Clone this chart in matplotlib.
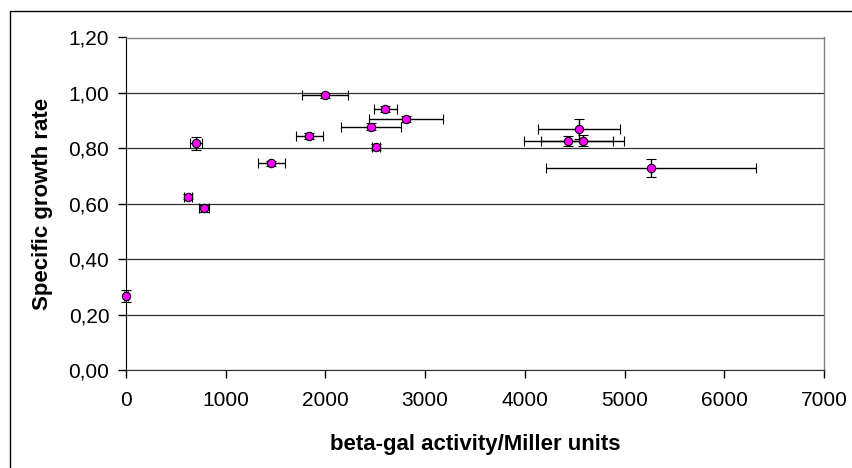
import matplotlib
matplotlib.use("Agg")
import matplotlib.pyplot as plt
from matplotlib.patches import Rectangle
from matplotlib.ticker import FuncFormatter

plt.rcParams['font.family'] = ['Liberation Sans', 'DejaVu Sans']

# beta-gal activity (Miller units) and specific growth rate, with error bars
activity = [0, 617, 705, 785, 1457, 1840, 1997, 2457, 2503, 2601, 2806, 4434, 4541, 4579, 5267]
activity_err = [20, 40, 60, 50, 134, 134, 232, 297, 40, 117, 370, 445, 410, 420, 1050]
growth = [0.268, 0.626, 0.818, 0.584, 0.746, 0.845, 0.991, 0.878, 0.805, 0.943, 0.906, 0.827, 0.870, 0.827, 0.730]
growth_err = [0.022, 0.008, 0.024, 0.012, 0.010, 0.010, 0.008, 0.012, 0.010, 0.010, 0.010, 0.018, 0.035, 0.020, 0.032]

xticks = [0, 1000, 2000, 3000, 4000, 5000, 6000, 7000]
yticks = [0.0, 0.2, 0.4, 0.6, 0.8, 1.0, 1.2]

W, H = 852, 468
fig = plt.figure(figsize=(W / 100, H / 100), dpi=100)
ax = fig.add_axes([126 / W, 1 - 370.3 / H, (824 - 126) / W, (370.3 - 37.5) / H])

# outer chart border (cut off at right and bottom)
fig.patches.append(Rectangle((10 / W, -0.1), 1.2, 1 - 11 / H + 0.1, transform=fig.transFigure,
                             fill=False, edgecolor='black', linewidth=1.0))

for yv in yticks:
    ax.axhline(yv, color='#303030', linewidth=0.9, zorder=1)

ax.errorbar(activity, growth, xerr=activity_err, yerr=growth_err, fmt='o',
            color='black', ecolor='black', elinewidth=1.0, capsize=3.5, capthick=1.0,
            markerfacecolor='#FF00FF', markeredgecolor='black', markeredgewidth=0.8,
            markersize=6, zorder=3, clip_on=False)

ax.set_xlim(0, 7000)
ax.set_ylim(0, 1.2)
ax.set_xticks(xticks)
ax.set_yticks(yticks)
ax.yaxis.set_major_formatter(FuncFormatter(lambda v, p: ('%.2f' % v).replace('.', ',')))

for s in ['top', 'right']:
    ax.spines[s].set_color('#808080')
    ax.spines[s].set_linewidth(1.0)
ax.spines['left'].set_color('black')
ax.spines['bottom'].set_color('#303030')

ax.tick_params(axis='both', direction='out', length=6, width=1.0, colors='black', labelsize=15)
ax.tick_params(axis='y', pad=6)
ax.tick_params(axis='x', pad=9)

ax.set_xlabel('beta-gal activity/Miller units', fontsize=16, fontweight='bold', labelpad=17)
ax.set_ylabel('Specific growth rate', fontsize=16, fontweight='bold', labelpad=11)

fig.savefig('out.png', dpi=100)
